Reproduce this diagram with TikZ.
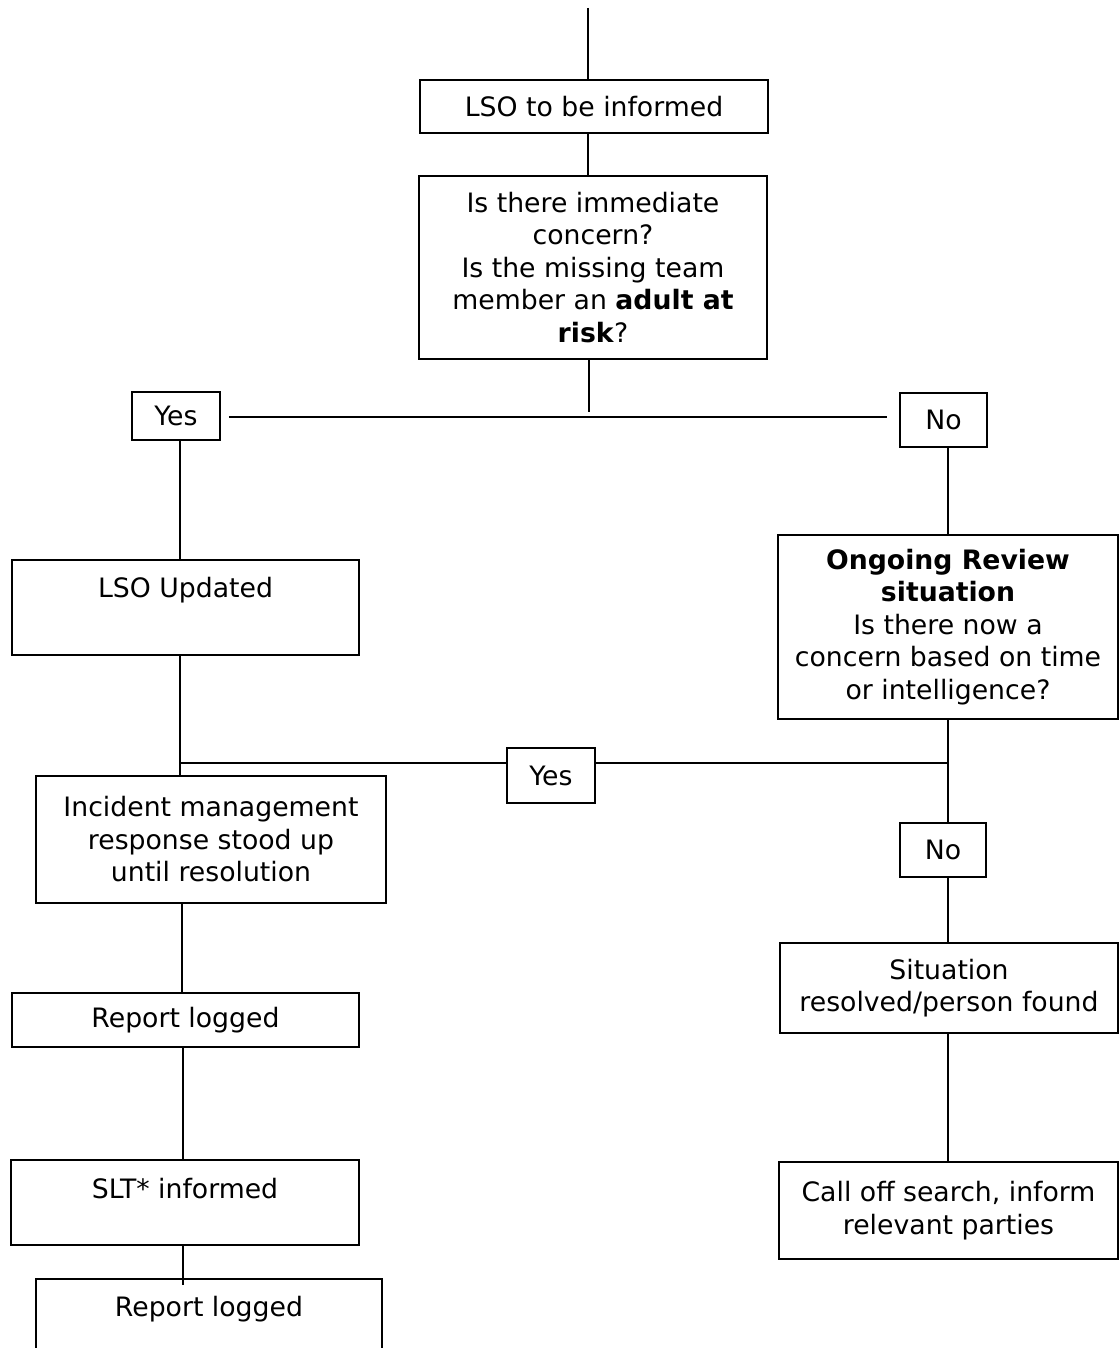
\documentclass[tikz,border=0pt]{standalone}
\usepackage{fontspec}
\setmainfont{DejaVu Sans}
\begin{document}
\begin{tikzpicture}[x=1pt,y=-1pt,
  box/.style={draw=black,line width=1.5pt,inner sep=0pt,align=center,
    font=\fontsize{26.7}{32.5}\selectfont},
  topbox/.style={draw=black,line width=1.5pt,inner sep=0pt,anchor=north,
    font=\fontsize{26.7}{32.5}\selectfont},
  conn/.style={draw=black,line width=1.1pt}]
\useasboundingbox (0,0) rectangle (1119,1348);
\clip (0,0) rectangle (1119,1348);

% nodes
\node[box,minimum width=348,minimum height=53] (lso) at (594,106.5) {LSO to be informed};
\node[box,minimum width=348,minimum height=183] (q) at (593,267.5)
  {Is there immediate\\concern?\\Is the missing team\\member an \textbf{adult at}\\\textbf{risk}?};
\node[box,minimum width=88,minimum height=48] (yes1) at (176,416) {Yes};
\node[box,minimum width=87,minimum height=54] (no1) at (943.5,420) {No};
\node[topbox,minimum width=347,text height=38,text depth=57] (lsoU) at (185.5,559) {LSO Updated};
\node[box,minimum width=340,minimum height=184] (ong) at (948,627)
  {\textbf{Ongoing Review}\\\textbf{situation}\\Is there now a\\concern based on time\\or intelligence?};
\node[box,minimum width=88,minimum height=55] (yes2) at (551,775.5) {Yes};
\node[box,minimum width=350,minimum height=127] (inc) at (211,839.5)
  {Incident management\\response stood up\\until resolution};
\node[box,minimum width=86,minimum height=54] (no2) at (943,850) {No};
\node[box,minimum width=338,minimum height=90] (sit) at (949,988)
  {Situation\\resolved/person found};
\node[box,minimum width=347,minimum height=54] (rl1) at (185.5,1020) {Report logged};
\node[topbox,minimum width=348,text height=39,text depth=46] (slt) at (185,1159) {SLT* informed};
\node[box,minimum width=339,minimum height=97] (call) at (948.5,1210.5)
  {Call off search, inform\\relevant parties};
\node[topbox,minimum width=346,text height=38,text depth=120] (rl2) at (209,1278) {Report logged};

% junctions and free ends
\coordinate (top) at (588,8);
\coordinate (qend) at (589,412);
\coordinate (j1) at (180,763);
\coordinate (j2) at (948,763);
\coordinate (lc) at (182,0);
\coordinate (sc) at (183,0);

% connectors
\draw[conn] (top) -- (top |- lso.north);
\draw[conn] (lso.south -| top) -- (q.north -| top);
\draw[conn] (q.south -| qend) -- (qend);
\draw[conn] ([xshift=8pt,yshift=-1pt]yes1.east) -- ([xshift=-12pt,yshift=-1pt]yes1.east -| no1.west);
\draw[conn] (yes1.south -| j1) -- (lsoU.north -| j1);
\draw[conn] (ong.north) -- (ong.north |- no1.south);
\draw[conn] (lsoU.south -| j1) -- (inc.north -| j1);
\draw[conn] (j1) -- (j1 -| yes2.west);
\draw[conn] (j1 -| yes2.east) -- (j2);
\draw[conn] (ong.south) -- (ong.south |- no2.north);
\draw[conn] (no2.south -| ong.south) -- (sit.north -| ong.south);
\draw[conn] (sit.south -| ong.south) -- (call.north -| ong.south);
\draw[conn] (inc.south -| lc) -- (rl1.north -| lc);
\draw[conn] (rl1.south -| sc) -- (slt.north -| sc);
\draw[conn] (slt.south -| sc) -- ([yshift=-7pt]rl2.north -| sc);
\end{tikzpicture}
\end{document}
